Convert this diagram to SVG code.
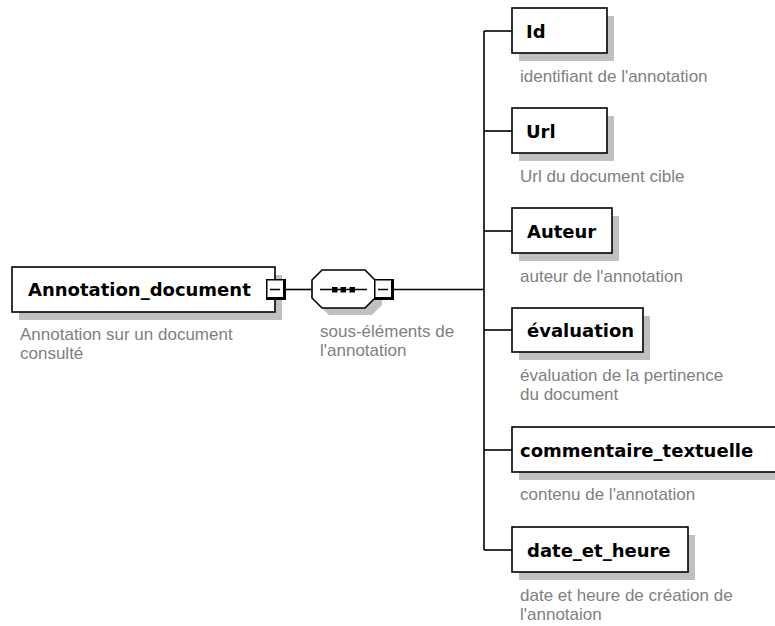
<svg xmlns="http://www.w3.org/2000/svg" width="775" height="626" viewBox="0 0 775 626">
<style>
.box{fill:#fff;stroke:#000;stroke-width:1.6}
.shadow{fill:#c0c0c0}
.name{font-family:"DejaVu Sans",Verdana,sans-serif;font-weight:bold;font-size:18px;fill:#000}
.desc{font-family:"Liberation Sans",Arial,sans-serif;font-size:17px;fill:#808080}
.conn{fill:none;stroke:#000;stroke-width:1.6}
</style>
<defs>
<g id="minus">
<rect x="0" y="0" width="20" height="21" fill="#000"/>
<rect x="1.5" y="1.5" width="15.5" height="16.5" fill="#fff"/>
<line x1="4" y1="10.5" x2="14" y2="10.5" stroke="#000" stroke-width="1.5"/>
</g>
</defs>
<rect width="775" height="626" fill="#fff"/>
<g id="connectors" class="conn">
<path d="M286 289.5 H312"/>
<path d="M393 289.5 H484"/>
<path d="M484 31 V550"/>
<path d="M484 31 H512"/>
<path d="M484 131 H512"/>
<path d="M484 231 H512"/>
<path d="M484 330 H512"/>
<path d="M484 450 H512"/>
<path d="M484 550 H512"/>
</g>
<g id="Annotation_document">
<rect class="shadow" x="19" y="275" width="263" height="45"/>
<rect class="box" x="12" y="267" width="263" height="45"/>
<text class="name" x="28" y="296">Annotation_document</text>
<use href="#minus" x="266" y="279"/>
<text class="desc" x="20" y="340">Annotation sur un document</text>
<text class="desc" x="20" y="359">consulté</text>
</g>
<g id="sequence">
<polygon class="shadow" points="319,287 329,277 372,277 382,287 382,305 372,315 329,315 319,305"/>
<polygon class="box" points="312,280 322,270 365,270 375,280 375,298 365,308 322,308 312,298"/>
<line x1="320" y1="289.5" x2="367" y2="289.5" stroke="#000" stroke-width="1.6"/>
<rect x="332" y="287" width="5.5" height="5.5" fill="#000"/>
<rect x="340.5" y="287" width="5.5" height="5.5" fill="#000"/>
<rect x="349.5" y="287" width="5.5" height="5.5" fill="#000"/>
<use href="#minus" x="374" y="279"/>
<text class="desc" x="320" y="337">sous-éléments de</text>
<text class="desc" x="320" y="356">l'annotation</text>
</g>
<g id="Id">
<rect class="shadow" x="519" y="16" width="95" height="45"/>
<rect class="box" x="512" y="8" width="95" height="45"/>
<text class="name" x="526" y="38">Id</text>
<text class="desc" x="520" y="82">identifiant de l'annotation</text>
</g>
<g id="Url">
<rect class="shadow" x="519" y="116" width="95" height="45"/>
<rect class="box" x="512" y="108" width="95" height="45"/>
<text class="name" x="526" y="138">Url</text>
<text class="desc" x="520" y="182">Url du document cible</text>
</g>
<g id="Auteur">
<rect class="shadow" x="519" y="216" width="100" height="45"/>
<rect class="box" x="512" y="208" width="100" height="45"/>
<text class="name" x="527" y="238">Auteur</text>
<text class="desc" x="520" y="282">auteur de l'annotation</text>
</g>
<g id="evaluation">
<rect class="shadow" x="519" y="316" width="131" height="44"/>
<rect class="box" x="512" y="308" width="131" height="44"/>
<text class="name" x="527" y="337">évaluation</text>
<text class="desc" x="520" y="381">évaluation de la pertinence</text>
<text class="desc" x="520" y="400">du document</text>
</g>
<g id="commentaire_textuelle">
<rect class="shadow" x="519" y="435" width="280" height="45"/>
<rect class="box" x="512" y="427" width="280" height="45"/>
<text class="name" x="520" y="457">commentaire_textuelle</text>
<text class="desc" x="520" y="500">contenu de l'annotation</text>
</g>
<g id="date_et_heure">
<rect class="shadow" x="519" y="535" width="176" height="45"/>
<rect class="box" x="512" y="527" width="176" height="45"/>
<text class="name" x="527" y="557">date_et_heure</text>
<text class="desc" x="520" y="601">date et heure de création de</text>
<text class="desc" x="520" y="620">l'annotaion</text>
</g>
</svg>
